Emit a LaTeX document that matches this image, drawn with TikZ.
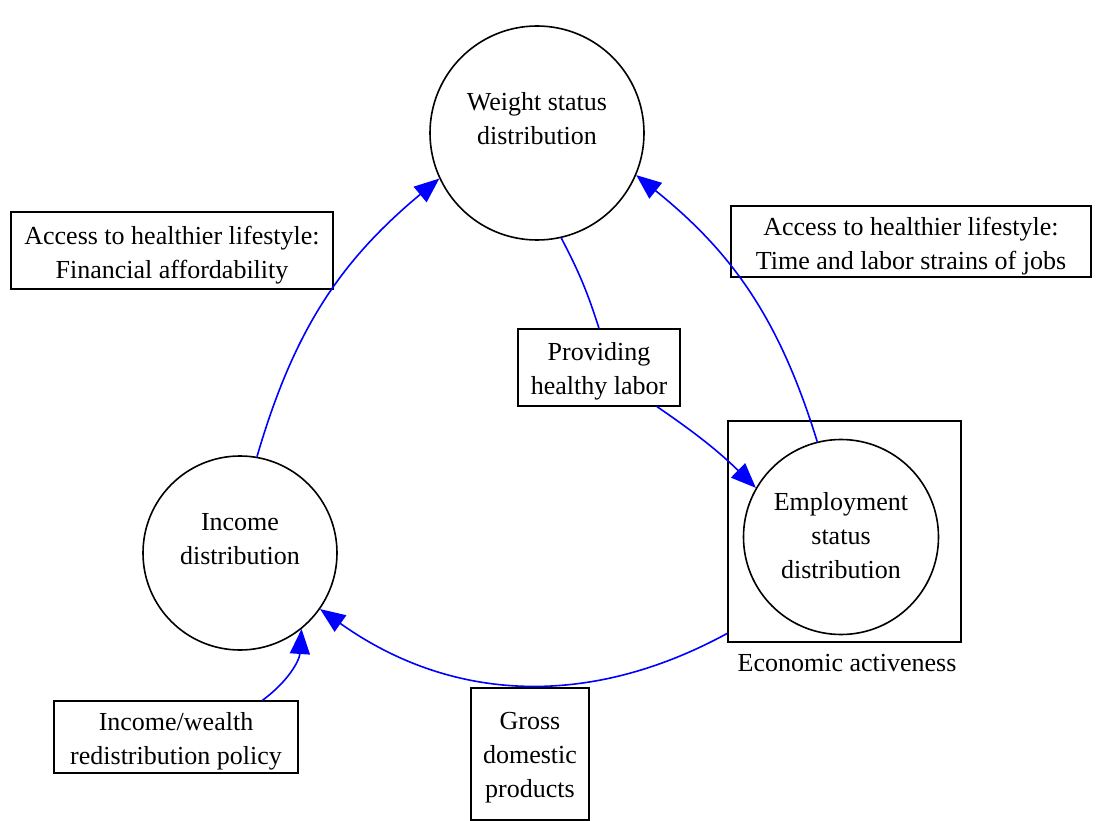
\documentclass[tikz,border=0pt]{standalone}
\usepackage{fontspec}
\setmainfont{Liberation Serif}
\usetikzlibrary{arrows.meta}
\begin{document}
\begin{tikzpicture}[x=1pt, y=-1pt,
    every node/.style={font=\fontsize{26}{34}\selectfont, align=center},
    state/.style={draw, circle, line width=1.6pt, inner sep=0pt},
    lbl/.style={draw, rectangle, line width=1.3pt, inner sep=0pt},
    txt/.style 2 args={label={[yshift=#1]center:#2}},
    flow/.style={blue, line width=1.6pt},
    flowarr/.style={flow, -{Triangle[length=25pt, width=20pt]}}]
    \useasboundingbox (0,0) rectangle (1098,821);

    % Estados
    \node[state, minimum size=214pt, txt={14pt}{Weight status\\distribution}] (wt) at (537,133) {};
    \node[state, minimum size=194pt, txt={14pt}{Income\\distribution}] (inc) at (240,553) {};
    \node[state, minimum size=195pt, txt={1pt}{Employment\\status\\distribution}] (emp) at (841,537) {};

    % Atividade economica
    \node[lbl, minimum width=233pt, minimum height=221pt] (econ) at (844.5,531.5) {};
    \node (econlbl) at (847,663) {Economic activeness};

    % Caixas de texto
    \node[lbl, minimum width=322pt, minimum height=77pt, txt={-5pt}{Access to healthier lifestyle:\\Financial affordability}] (aff) at (172,250.5) {};
    \node[lbl, minimum width=360pt, minimum height=71pt, txt={-5pt}{Access to healthier lifestyle:\\Time and labor strains of jobs}] (strain) at (911,241.5) {};
    \node[lbl, minimum width=162pt, minimum height=77pt, txt={-4pt}{Providing\\healthy labor}] (labor) at (599,367.5) {};
    \node[lbl, minimum width=244pt, minimum height=72pt, txt={-4pt}{Income/wealth\\redistribution policy}] (redis) at (176,737) {};
    \node[lbl, minimum width=118pt, minimum height=132pt, txt={-4pt}{Gross\\domestic\\products}] (gdp) at (530,754) {};

    % Ligacoes
    \draw[flowarr] (inc.80) to[bend left=17] (wt.205);
    \draw[flowarr] (emp.104) to[bend right=17] (wt.337);
    \draw[flow] (wt.283) to[bend left=5] (labor.north);
    \draw[flowarr] (labor.-34) to[bend left=5] (emp.150);
    \draw[flowarr] (econ.221) to[bend left=32] (inc.-35);
    \draw[flowarr] (redis.23) to[bend right=25] (inc.-51);
\end{tikzpicture}
\end{document}
